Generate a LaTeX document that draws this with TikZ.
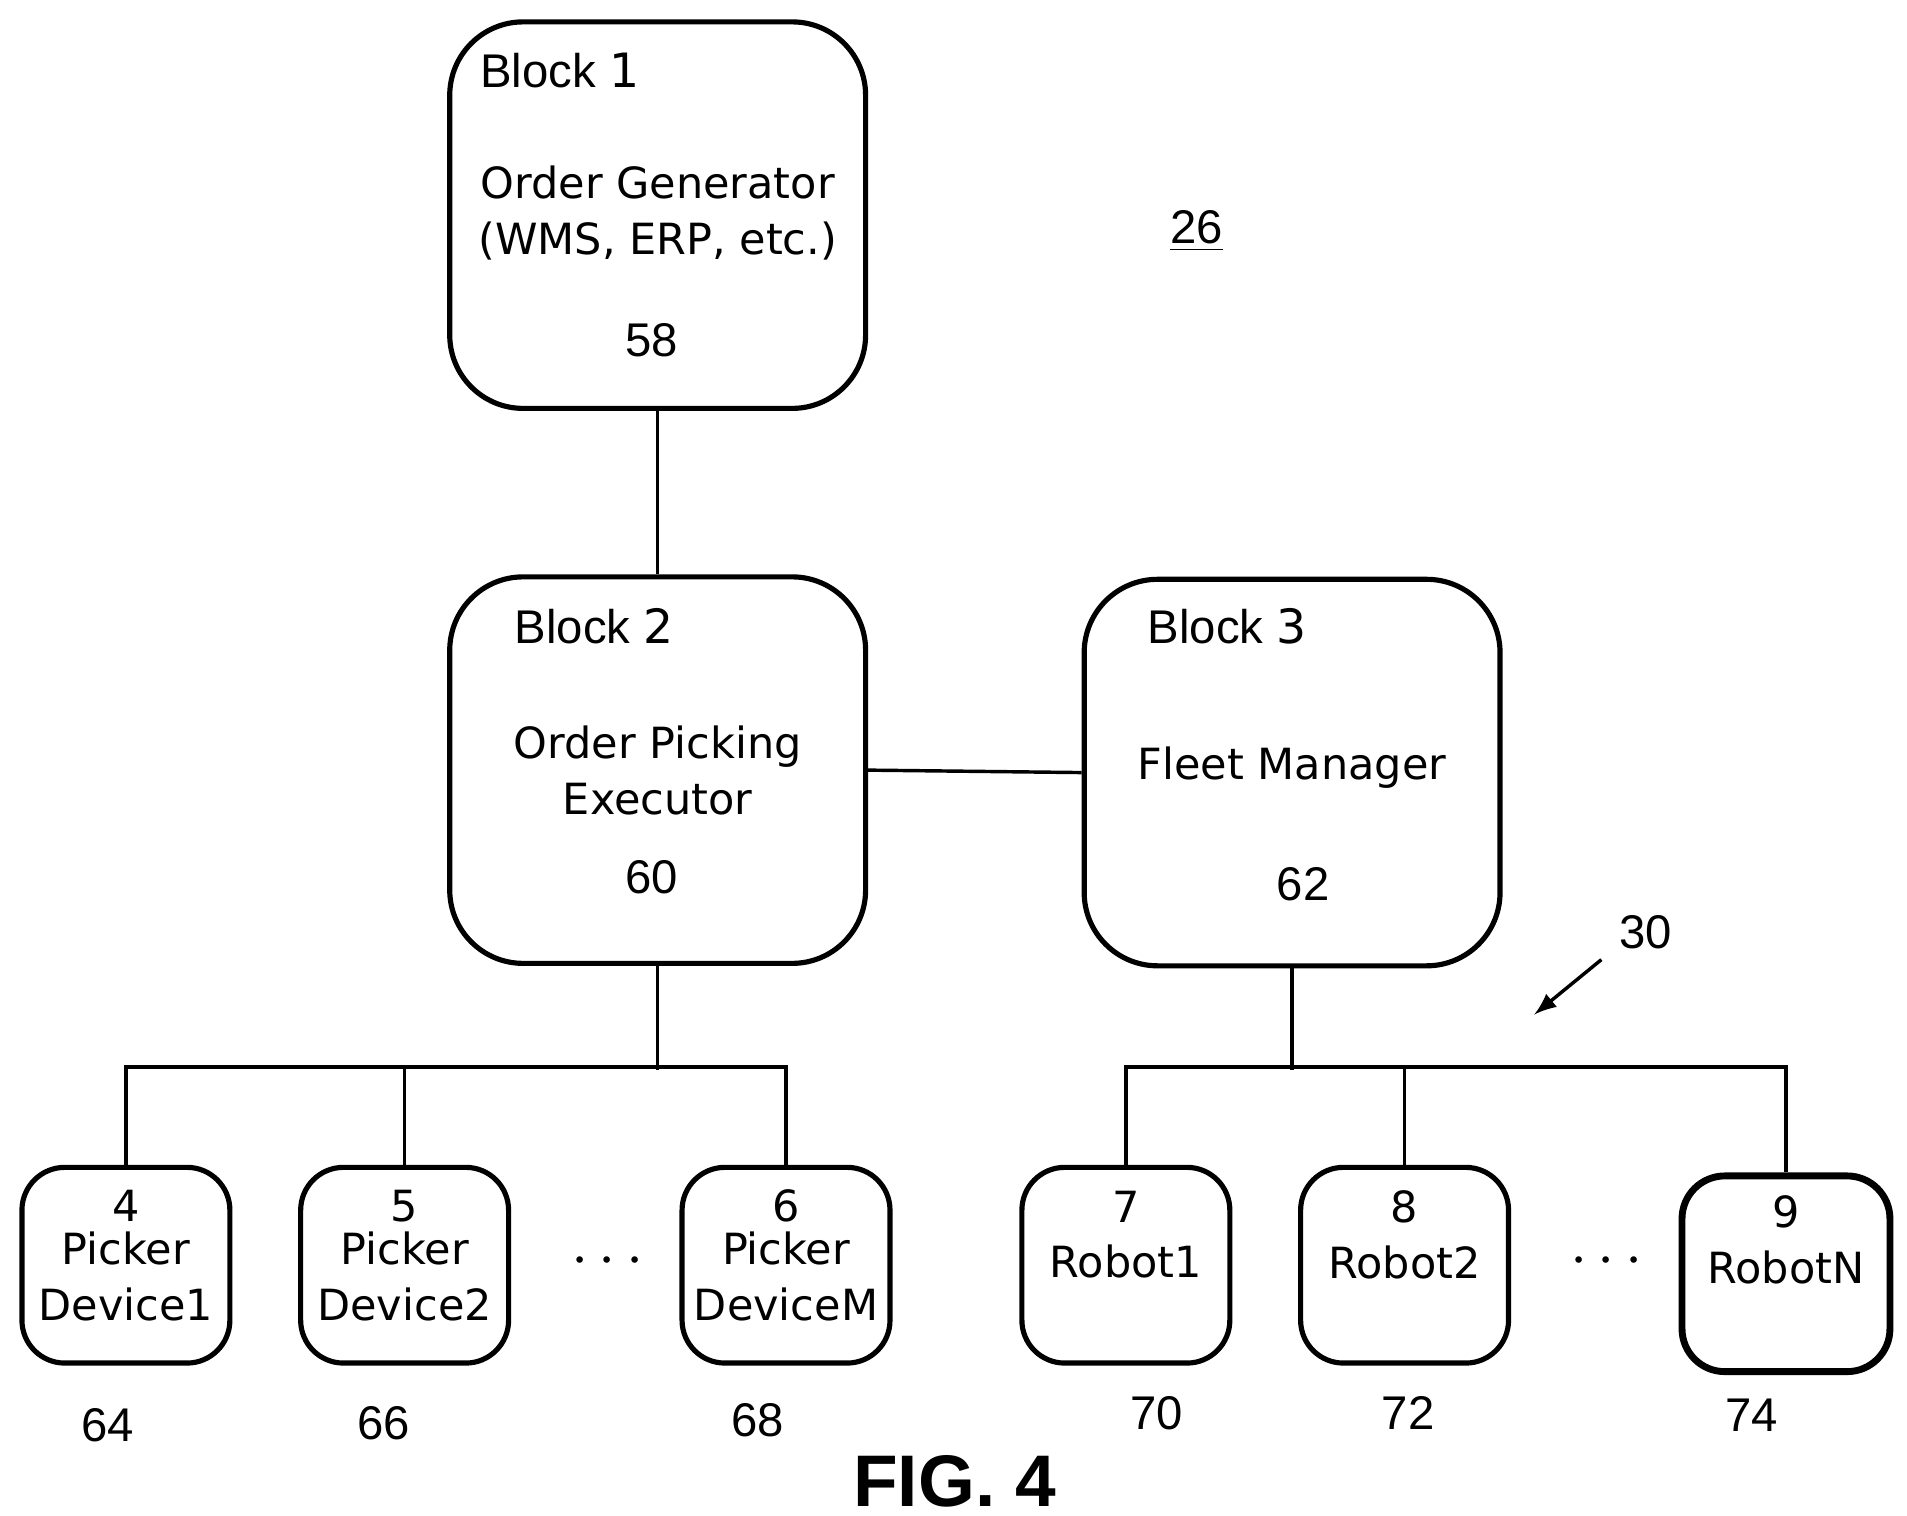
\documentclass[tikz,border=0pt]{standalone}
\usepackage{fontspec}
\setmainfont{Liberation Sans}
\newfontfamily\vfont{DejaVu Sans}
\begin{document}
\begin{tikzpicture}[x=0.01cm,y=-0.01cm,
    blk/.style={draw,very thick,rounded corners=0.6cm,minimum width=3.4cm,minimum height=3.16cm},
    dev/.style={draw,very thick,rounded corners=0.35cm,minimum width=1.7cm,minimum height=1.6cm},
    txt/.style={font=\vfont\fontsize{10}{13}\selectfont,align=center},
    num/.style={font=\fontsize{11}{13}\selectfont}]
  \useasboundingbox (0,0) rectangle (1560,1240);
  % blocks
  \node[blk] (b1) at (538,176) {};
  \node[blk] (b2) at (538,630) {};
  \node[blk] (b3) at (1057,632) {};
  \node[num] at (458,58) {Block \vfont 1};
  \node[txt] at (538,174) {Order Generator\\(WMS, ERP, etc.)};
  \node[num] at (533,278) {58};
  \node[num] at (486,512) {Block \vfont 2};
  \node[txt] at (538,630) {Order Picking\\Executor};
  \node[num] at (533,718) {60};
  \node[num] at (1004,512) {Block \vfont 3};
  \node[txt] at (1057,628) {Fleet Manager};
  \node[num] at (1066,723) {62};
  \node[num] at (979,189) {\underline{26}};
  % devices
  \node[dev] (d1) at (103,1035) {};
  \node[dev] (d2) at (331,1035) {};
  \node[dev] (d3) at (643,1035) {};
  \node[dev] (r1) at (921,1035) {};
  \node[dev] (r2) at (1149,1035) {};
  \node[dev,line width=1.6pt] (r3) at (1461,1042) {};
  \node[txt] at (103,1027) {4\\[-3pt]Picker\\Device1};
  \node[txt] at (331,1027) {5\\[-3pt]Picker\\Device2};
  \node[txt] at (643,1027) {6\\[-3pt]Picker\\DeviceM};
  \node[txt] at (921,1010) {7\\Robot1};
  \node[txt] at (1149,1010) {8\\Robot2};
  \node[txt] at (1461,1014) {9\\RobotN};
  \node[font=\bfseries\Large] at (497,1032) {$\cdots$};
  \node[font=\bfseries\Large] at (1314,1032) {$\cdots$};
  \foreach \n/\x/\y in {64/88/1166,66/314/1164,68/620/1162,70/946/1156,72/1152/1156,74/1433/1158}
    \node[num] at (\x,\y) {\n};
  \node[num] at (1346,763) {30};
  \node[font=\bfseries\fontsize{17}{20}\selectfont] at (781,1212) {FIG. 4};
  % connectors
  \draw[thick] (b1.south) -- (b2.north);
  \draw[thick] (b2.east) -- (b3.west);
  \draw[thick] (b2.south) -- (b2.south |- 0,875);
  \draw[thick] (d1.north) -- ++(0,-80) -| (d3.north);
  \draw[thick] (d2.north) -- ++(0,-80);
  \draw[thick] (b3.south) -- (b3.south |- 0,875);
  \draw[thick] (r1.north) -- ++(0,-80) -| (r3.north);
  \draw[thick] (r2.north) -- ++(0,-80);
  \coordinate (a30) at (1310,785);
  \draw[thick,-latex] (a30) -- ++(-55,45);
\end{tikzpicture}
\end{document}
